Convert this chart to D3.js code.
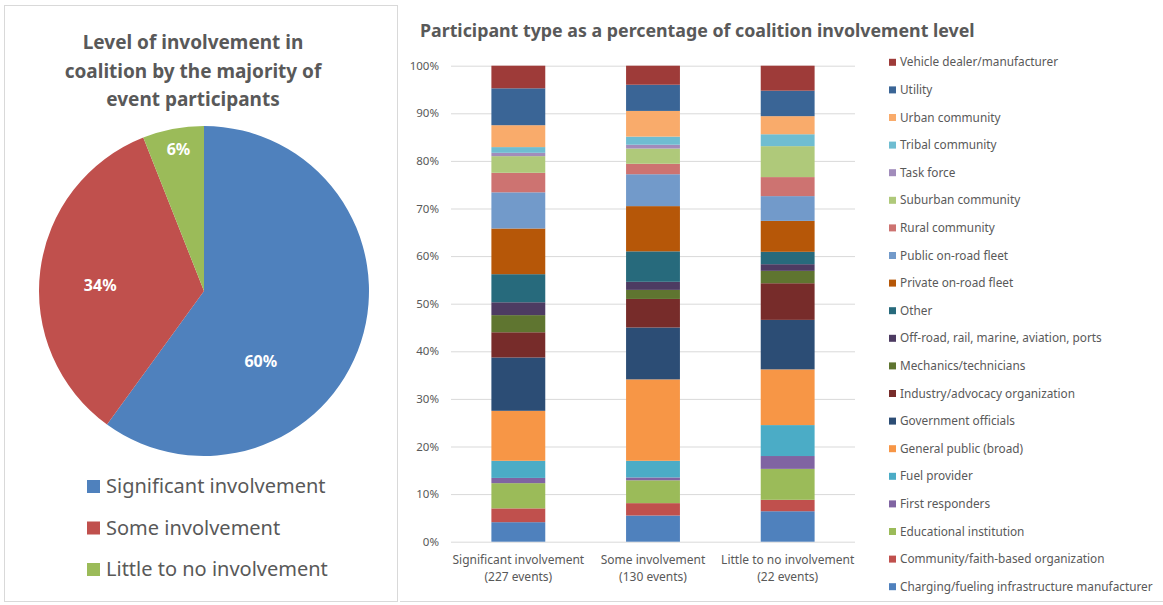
<!DOCTYPE html>
<html>
<head>
<meta charset="utf-8">
<script src="https://cdn.jsdelivr.net/npm/d3@7"></script>
<style>
body { margin: 0; background: #fff; }
text { font-family: "Noto Sans", sans-serif; fill: #595959; }
</style>
</head>
<body>
<div id="chart"></div>
<script>
var w = 1163;
var h = 605;

// pie data
var pieLabels = ["Significant involvement", "Some involvement", "Little to no involvement"];
var pieValues = [60, 34, 6];
var pieColors = ["#4F81BD", "#C0504D", "#9BBB59"];

// stacked bar data (bottom to top)
var barCategories = ["Significant involvement|(227 events)", "Some involvement|(130 events)", "Little to no involvement|(22 events)"];
var participantTypes = [
  "Charging/fueling infrastructure manufacturer",
  "Community/faith-based organization",
  "Educational institution",
  "First responders",
  "Fuel provider",
  "General public (broad)",
  "Government officials",
  "Industry/advocacy organization",
  "Mechanics/technicians",
  "Off-road, rail, marine, aviation, ports",
  "Other",
  "Private on-road fleet",
  "Public on-road fleet",
  "Rural community",
  "Suburban community",
  "Task force",
  "Tribal community",
  "Urban community",
  "Utility",
  "Vehicle dealer/manufacturer"
];
var significantValues = [4.1, 2.9, 5.3, 1.1, 3.6, 10.5, 11.2, 5.3, 3.6, 2.7, 5.9, 9.6, 7.6, 4.1, 3.5, 0.7, 1.2, 4.6, 7.75, 4.75];
var someValues        = [5.5, 2.6, 4.8, 0.6, 3.5, 17.1, 10.9, 6.0, 1.9, 1.7, 6.4, 9.5, 6.7, 2.2, 3.2, 0.8, 1.7, 5.4, 5.5, 4.0];
var littleValues      = [6.4, 2.4, 6.5, 2.7, 6.5, 11.7, 10.4, 7.7, 2.6, 1.4, 2.6, 6.5, 5.2, 4.0, 6.5, 0.0, 2.5, 3.8, 5.35, 5.25];
var typeColors = ["#4F81BD", "#C0504D", "#9BBB59", "#8064A2", "#4BACC6", "#F79646", "#2C4D75", "#772C2A",
  "#5F7530", "#4D3B62", "#276A7C", "#B65708", "#729ACA", "#CD7371", "#AFC97A", "#A18CBB", "#6FBDD1", "#F9AB6B",
  "#3A6596", "#9E3B39"];
var yTicks = [0, 10, 20, 30, 40, 50, 60, 70, 80, 90, 100];

var svg = d3.select("#chart")
  .append("svg")
  .attr("width", w)
  .attr("height", h);

// panel borders
svg.append("rect").attr("x", 4.5).attr("y", 5.5).attr("width", 393).attr("height", 596)
  .attr("fill", "none").attr("stroke", "#d9d9d9");
svg.append("line").attr("x1", 400).attr("x2", 1163).attr("y1", 601.5).attr("y2", 601.5)
  .attr("stroke", "#d9d9d9");

// ---------- pie ----------
var pieTitle = ["Level of involvement in", "coalition by the majority of", "event participants"];
svg.selectAll(".pieTitle").data(pieTitle).enter().append("text")
  .attr("x", 193)
  .attr("y", function(d, i) { return 49 + i * 28.5; })
  .attr("text-anchor", "middle")
  .attr("font-size", 19)
  .attr("font-weight", "bold")
  .text(function(d) { return d; });

var cx = 204, cy = 291, r = 165;
var pie = d3.pie().sort(null).value(function(d) { return d; });
var arc = d3.arc().innerRadius(0).outerRadius(r);
var arcs = pie(pieValues);
var pieG = svg.append("g").attr("transform", "translate(" + cx + "," + cy + ")");
pieG.selectAll("path").data(arcs).enter().append("path")
  .attr("d", arc)
  .attr("fill", function(d, i) { return pieColors[i]; });

// label placement like Excel: radius fraction and angle shift per slice
var labelRadius = [0.55, 0.63, 0.87];
var labelShift = [0.58, -0.07, 0.01];
pieG.selectAll(".pl").data(arcs).enter().append("text")
  .attr("transform", function(d, i) {
    var a = (d.startAngle + d.endAngle) / 2 + labelShift[i];
    var rr = r * labelRadius[i];
    return "translate(" + (Math.sin(a) * rr) + "," + (-Math.cos(a) * rr) + ")";
  })
  .attr("dy", "0.35em")
  .attr("text-anchor", "middle")
  .attr("font-size", 16)
  .attr("font-weight", "bold")
  .style("fill", "#fff")
  .text(function(d) { return d.data + "%"; });

var pieLegend = svg.selectAll(".pleg").data(pieLabels).enter().append("g")
  .attr("transform", function(d, i) { return "translate(87," + (486 + i * 41.5) + ")"; });
pieLegend.append("rect").attr("x", 0).attr("y", -6).attr("width", 13).attr("height", 13)
  .attr("fill", function(d, i) { return pieColors[i]; });
pieLegend.append("text").attr("x", 19).attr("dy", "0.35em")
  .attr("font-size", 20)
  .text(function(d) { return d; });

// ---------- stacked bars ----------
svg.append("text")
  .attr("x", 420).attr("y", 37)
  .attr("font-size", 17.8)
  .attr("font-weight", "bold")
  .text("Participant type as a percentage of coalition involvement level");

var xScale = d3.scaleBand().domain(barCategories).range([451, 855]).paddingInner(0.6).paddingOuter(0.3);
var yScale = d3.scaleLinear().domain([0, 100]).range([541.7, 65.7]);

var yAxis = d3.axisLeft(yScale).tickValues(yTicks).tickSize(-(855 - 451))
  .tickFormat(function(d) { return d + "%"; });
var yG = svg.append("g").attr("transform", "translate(451,0)").call(yAxis);
yG.select(".domain").remove();
yG.selectAll(".tick line").attr("stroke", "#d9d9d9");
yG.selectAll(".tick text").attr("x", -12).attr("font-size", 11.5).style("fill", "#595959")
  .attr("font-family", "Noto Sans");

var seriesValues = [significantValues, someValues, littleValues];
var table = barCategories.map(function(c, ci) {
  var row = { cat: c };
  participantTypes.forEach(function(t, ti) { row[t] = seriesValues[ci][ti]; });
  return row;
});
var stack = d3.stack().keys(participantTypes);
var layers = stack(table);

svg.selectAll(".layer").data(layers).enter().append("g")
  .attr("fill", function(d, i) { return typeColors[i]; })
  .selectAll("rect").data(function(d) { return d; }).enter().append("rect")
  .attr("x", function(d) { return xScale(d.data.cat); })
  .attr("width", xScale.bandwidth())
  .attr("y", function(d) { return yScale(d[1]); })
  .attr("height", function(d) { return yScale(d[0]) - yScale(d[1]); });

// x labels
var xl = svg.selectAll(".xl").data(barCategories).enter().append("text")
  .attr("x", function(d) { return xScale(d) + xScale.bandwidth() / 2; })
  .attr("y", 564)
  .attr("text-anchor", "middle")
  .attr("font-size", 12);
xl.append("tspan").attr("x", function(d) { return xScale(d) + xScale.bandwidth() / 2; })
  .text(function(d) { return d.split("|")[0]; });
xl.append("tspan").attr("x", function(d) { return xScale(d) + xScale.bandwidth() / 2; })
  .attr("dy", 17)
  .text(function(d) { return d.split("|")[1]; });

// legend (top to bottom reversed order)
var legendTypes = participantTypes.slice().reverse();
var leg = svg.selectAll(".leg").data(legendTypes).enter().append("g")
  .attr("transform", function(d, i) { return "translate(889," + (62.3 + i * 27.6) + ")"; });
leg.append("rect").attr("x", 0).attr("y", -3.5).attr("width", 7).attr("height", 7)
  .attr("fill", function(d) { return typeColors[participantTypes.indexOf(d)]; });
leg.append("text").attr("x", 11).attr("dy", "0.35em").attr("font-size", 11.8)
  .text(function(d) { return d; });
</script>
</body>
</html>
